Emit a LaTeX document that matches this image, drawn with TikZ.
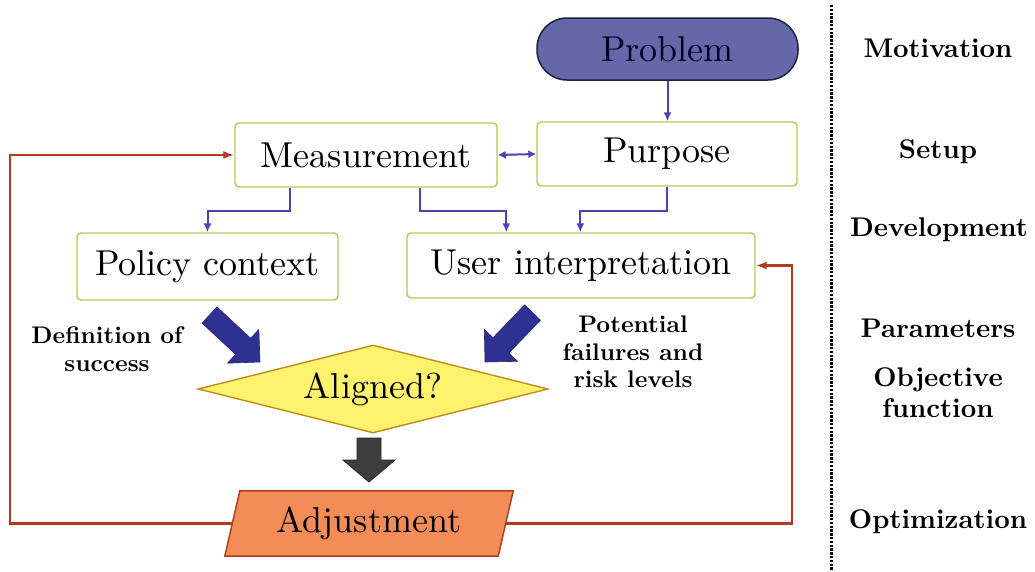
\documentclass[tikz,border=0pt]{standalone}
\usepackage{fontspec}
\setmainfont{lmroman10-regular.otf}[BoldFont=lmroman10-bold.otf]
\usetikzlibrary{arrows.meta,calc,shapes.geometric,backgrounds}

\definecolor{boxgreen}{RGB}{182,200,84}
\definecolor{linkblue}{RGB}{80,64,176}
\definecolor{loopred}{RGB}{178,58,30}
\definecolor{blockblue}{RGB}{46,49,146}
\definecolor{blockgray}{RGB}{62,62,62}
\definecolor{probfill}{RGB}{100,103,168}
\definecolor{probline}{RGB}{32,32,64}
\definecolor{diafill}{RGB}{255,243,110}
\definecolor{dialine}{RGB}{190,140,30}
\definecolor{adjfill}{RGB}{244,140,88}
\definecolor{adjline}{RGB}{176,66,28}

% block arrow: #1 start, #2 tip, #3 shaft half width, #4 head half width, #5 head length, #6 style
\newcommand\blockarrow[6]{%
  \coordinate (#1-hb) at ($(#2)!#5!(#1)$);
  \filldraw[#6] ($(#1)!#3!90:(#2)$) -- ($(#1-hb)!#3!90:(#2)$) -- ($(#1-hb)!#4!90:(#2)$)
    -- (#2) -- ($(#1-hb)!#4!-90:(#2)$) -- ($(#1-hb)!#3!-90:(#2)$)
    -- ($(#1)!#3!-90:(#2)$) -- cycle;}

\begin{document}
\begin{tikzpicture}[x=1pt,y=-1pt,
  mainfont/.style={font=\fontsize{36}{42}\selectfont},
  box/.style={mainfont,draw=boxgreen,line width=1.4pt,rounded corners=4pt,fill=white,
    minimum height=64pt,inner sep=0pt},
  pill/.style={mainfont,draw=probline,line width=1.5pt,fill=probfill,rounded corners=30pt,
    inner sep=0pt,text=black!85!blue},
  dia/.style={mainfont,diamond,aspect=4,draw=dialine,line width=1.4pt,fill=diafill,
    minimum width=350pt,minimum height=88pt,inner sep=0pt},
  lab/.style={font=\bfseries\fontsize{24}{27.5}\selectfont,align=center,inner sep=0pt},
  col/.style={font=\bfseries\fontsize{27}{31}\selectfont,align=center,inner sep=0pt},
  blink/.style={draw=linkblue,line width=2pt,-{Latex[length=9pt,width=8pt]}},
  rlink/.style={draw=loopred,line width=2.2pt,-{Latex[length=11pt,width=8pt]}},
  sep/.style={draw=black,line width=3pt,dash pattern=on 2.4pt off 1.4pt}
]
\useasboundingbox (0,0) rectangle (1035,571);

% flow nodes
\node[pill,minimum width=261pt,minimum height=62pt] (prob) at (667.5,49) {Problem};
\node[box,minimum width=262pt] (meas) at (366,155) {Measurement};
\node[box,minimum width=260pt] (purp) at (667,154) {Purpose};
\node[box,minimum width=261pt,minimum height=67pt] (pol) at (207.5,266.5) {Policy context};
\node[box,minimum width=348pt,minimum height=65pt] (user) at (581,265.5) {User interpretation};
\node[dia] (ali) at (373,389) {Aligned?};
\node[mainfont,inner sep=0pt,minimum width=274pt,minimum height=65pt] (adj) at (369,523.5) {Adjustment};
\begin{scope}[on background layer]
  \filldraw[draw=adjline,line width=1.5pt,fill=adjfill]
    ($(adj.north west)+(8,0)$) -- ($(adj.north east)+(7,0)$)
    -- ($(adj.south east)+(-8,0)$) -- ($(adj.south west)+(-7,0)$) -- cycle;
\end{scope}

% side labels
\node[lab] (defs) at (107,349) {Definition of\\success};
\node[lab] (risk) at (633,352) {Potential\\failures and\\risk levels};

% stage column
\coordinate (septop) at (831,5);
\coordinate (sepbot) at (831,571);
\draw[sep] (septop) -- (sepbot);
\node[col] (motiv) at (938,48) {Motivation};
\node[col] (setup) at (938,152) {Setup};
\node[col] (devel) at (939,230) {Development};
\node[col] (param) at (938,328) {Parameters};
\node[col] (objf) at (938,393) {Objective\\function};
\node[col] (optim) at (938,522) {Optimization};

% thin connectors
\draw[blink] (prob.south) -- (prob.south |- purp.north);
\draw[draw=linkblue,line width=2pt,{Latex[length=8pt,width=8pt]}-{Latex[length=8pt,width=8pt]}]
  (meas.east) -- (purp.west);
\draw[blink] ($(meas.south west)+(56,0)$) -- ++(0,23) -| (pol.north);
\draw[blink] ($(meas.south west)+(186,0)$) -- ++(0,23) -| ($(user.north west)+(100,0)$);
\draw[blink] (purp.south) -- ++(0,24) -| ($(user.north west)+(174,0)$);

% feedback loops
\coordinate (lft) at (10,0);
\coordinate (rgt) at (792,0);
\draw[rlink] (adj.west) -- (adj.west -| lft) -- (lft |- meas.west) -- (meas.west);
\draw[rlink] (adj.east) -- (adj.east -| rgt) -- (rgt |- user.east) -- (user.east);

% block arrows
\coordinate (ba1s) at (209.5,315);
\coordinate (ba1t) at (260,362);
\coordinate (ba2s) at (532.5,312.5);
\coordinate (ba2t) at (485,362);
\coordinate (ba3s) at (369,438);
\coordinate (ba3t) at (369,482);
\blockarrow{ba1s}{ba1t}{11pt}{23pt}{23pt}{fill=blockblue,draw=blockblue!80!black,line width=0.6pt}
\blockarrow{ba2s}{ba2t}{11pt}{23pt}{23pt}{fill=blockblue,draw=blockblue!80!black,line width=0.6pt}
\blockarrow{ba3s}{ba3t}{12pt}{26pt}{22pt}{fill=blockgray,draw=black!85,line width=0.8pt}
\end{tikzpicture}
\end{document}
